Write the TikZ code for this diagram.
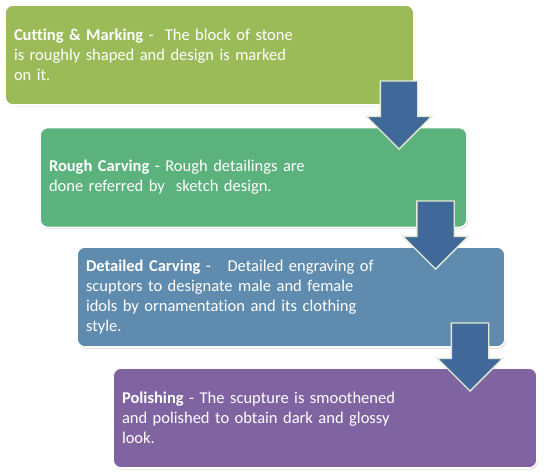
\documentclass[tikz,border=0pt]{standalone}
\usepackage{fontspec}
\setmainfont[Ligatures=NoCommon]{Carlito}
\usepackage{tikz}
\usetikzlibrary{shapes.arrows, shadows}
\definecolor{stageA}{RGB}{155, 187, 89}
\definecolor{stageB}{RGB}{92, 178, 124}
\definecolor{stageC}{RGB}{95, 140, 174}
\definecolor{stageD}{RGB}{128, 100, 162}
\definecolor{arrowFill}{RGB}{64, 104, 152}
\definecolor{arrowLine}{RGB}{226, 234, 212}

\begin{document}
\begin{tikzpicture}[x=1pt, y=-1pt,
    font=\fontsize{16.5}{20}\selectfont,
    stage/.style={draw=white, line width=1.6pt, fill=#1, rounded corners=8pt,
      minimum height=100pt, inner xsep=9pt, align=left, text=white,
      drop shadow={opacity=0.3, shadow xshift=1pt, shadow yshift=-1.5pt}},
    flow/.style={single arrow, rotate=-90, anchor=tip, fill=arrowFill,
      draw=arrowLine, line width=1.4pt, minimum height=68pt, minimum width=64pt,
      single arrow head extend=14pt, inner xsep=0pt, inner ysep=18pt}]
  \useasboundingbox (0,0) rectangle (544,476);
  \node[stage=stageA, minimum width=409pt, text width=391pt] (cutting) at (209.5,55)
    {\textbf{Cutting \& Marking} -\ \ The block of stone\\ is roughly shaped and design is marked\\ on it.};
  \node[stage=stageB, minimum width=427pt, text width=409pt] (rough) at (253.5,177.5)
    {\textbf{Rough Carving} - Rough detailings are\\ done referred by\ \ sketch design.};
  \node[stage=stageC, minimum width=428pt, text width=410pt] (detailed) at (291,297)
    {\textbf{Detailed Carving} -\ \ \ Detailed engraving of\\ scuptors to designate male and female\\ idols by ornamentation and its clothing\\ style.};
  \node[stage=stageD, minimum width=424pt, text width=406pt] (polishing) at (325,418)
    {\textbf{Polishing} - The scupture is smoothened\\ and polished to obtain dark and glossy\\ look.};
  % arrows between the steps
  \node[flow] (arr1) at (399,150) {};
  \node[flow] (arr2) at (435.5,270) {};
  \node[flow] (arr3) at (470,392) {};
\end{tikzpicture}
\end{document}
